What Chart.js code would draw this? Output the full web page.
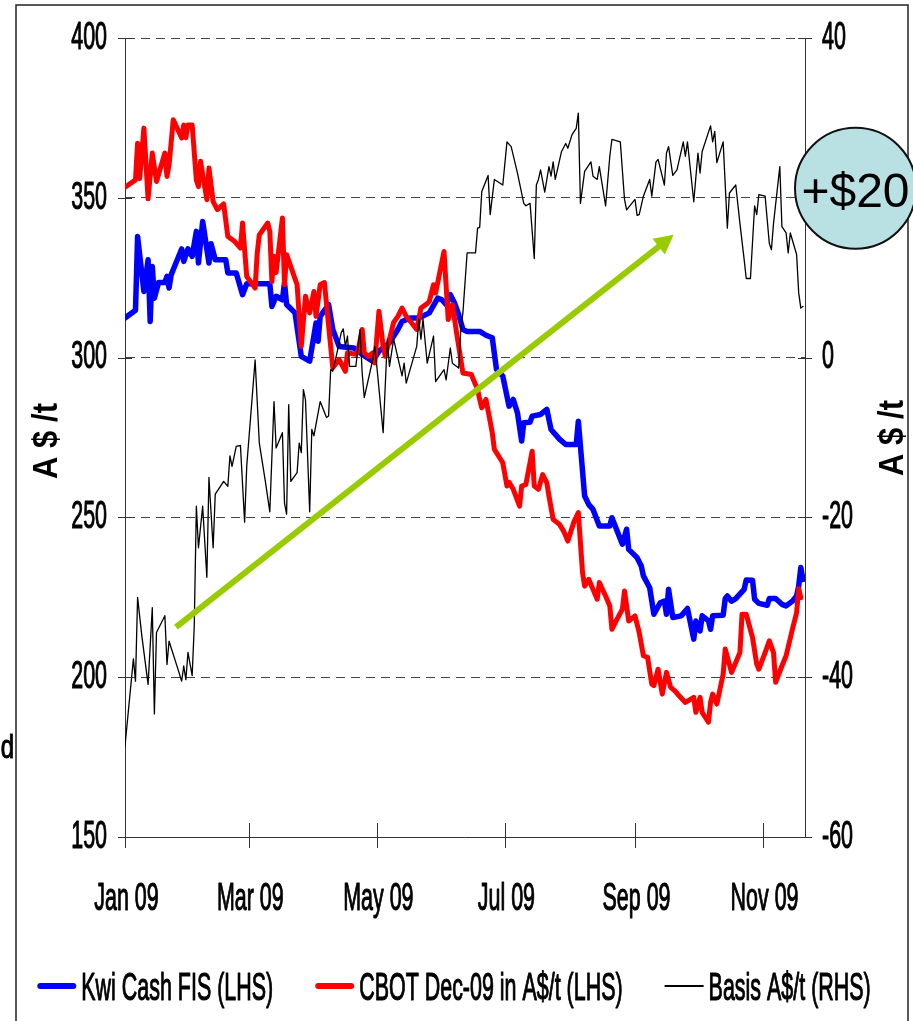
<!DOCTYPE html>
<html>
<head>
<meta charset="utf-8">
<title>Kwi Cash FIS vs CBOT Dec-09 and basis, 2009</title>
<script src="https://cdn.jsdelivr.net/npm/chart.js@4.4.0/dist/chart.umd.min.js"></script>
<style>
  html, body { margin: 0; padding: 0; background: #fff; }
  #wrap { width: 913px; height: 1021px; }
</style>
</head>
<body>
<div id="wrap"><canvas id="chart" width="913" height="1021"></canvas></div>
<script>
// ---- x axis: day of 2009 (0 = 1 Jan) ----
const monthStarts = [0, 59, 120, 181, 243, 304];
const monthLabels = ['Jan 09', 'Mar 09', 'May 09', 'Jul 09', 'Sep 09', 'Nov 09'];

// ---- Kwi Cash FIS, A$/t (left axis) ----
const kwiDays = [0,5,6,9,11,12,13,14,16,19,20,21,22,27,28,30,32,34,35,37,40,41,43,48,49,53,56,58,69,70,72,75,76,77,81,84,88,91,92,93,97,99,102,109,113,118,121,126,130,132,136,140,145,149,151,153,155,157,159,161,163,169,172,175,177,180,182,183,185,187,189,190,193,194,198,201,203,207,210,215,216,217,219,221,223,226,231,232,237,239,240,244,246,247,250,252,255,257,258,259,261,265,268,271,272,274,275,278,279,280,285,286,287,289,291,295,296,299,300,302,306,307,310,313,315,318,320,321,322,323];
const kwiValues = [312.4,314.8,337.9,320.7,330.6,311.3,328.5,318.6,323.5,323.5,325.4,321.8,325.9,334,330.1,334,331.7,339.5,329.6,342.6,329.6,335.6,330.6,330.6,326.5,326.5,319.7,323.1,323.1,316,319.2,318.1,323.5,316.6,314,300.4,298.9,310.8,305.1,312.9,316.6,308.8,303.5,303,301,298.9,302,304.6,308.8,311.3,312.4,312.4,314,318.6,318.1,316.6,319.7,317.1,313.4,308.8,308.2,308.2,307,306.2,296.3,294.2,287.9,284.8,286.9,282.7,273.9,279.6,279.8,281.7,282.2,283.8,277.5,274.5,272.8,272.8,280.1,272.3,256.7,254,252.5,247.3,247.3,249.9,241.6,246.3,240,237.4,234.8,231.7,228,219.7,223.3,223.8,219.7,227.5,218.7,219.2,221.5,211.9,217.6,214.5,219.2,217.6,215,219.2,219.4,224.6,225.4,223.8,224.6,227.5,230.4,230.3,224.4,223.1,222.5,224.6,224.6,222.8,222.3,223.8,225.4,228.5,234.3,230.6];

// ---- CBOT Dec-09 converted to A$/t (left axis) ----
const cbotDays = [0,5,6,7,9,11,13,15,19,20,21,23,27,28,29,30,32,34,35,36,39,40,42,44,47,49,52,55,56,58,62,63,64,68,69,70,71,72,75,76,77,82,84,86,88,90,91,93,95,99,102,105,106,110,111,113,114,116,118,119,121,123,124,126,128,130,132,134,136,139,140,141,144,145,147,148,152,154,156,158,161,165,168,169,170,172,175,176,178,180,182,183,185,188,189,191,194,195,197,199,201,202,204,207,209,211,214,216,218,219,221,225,226,229,231,232,234,237,238,240,243,245,247,249,251,252,254,256,258,260,262,264,267,271,272,274,275,278,279,280,282,285,286,289,293,294,296,299,301,302,305,307,309,310,313,315,318,320,321,322];
const cbotValues = [353.3,355.6,367.1,356,371.8,349.7,364,355.1,364,356.7,360.3,374.4,368.7,372.8,368.8,372.8,372.8,355.6,353.5,361.4,349.4,359.3,348.8,346.3,348.1,337.9,336.5,334.3,342.1,325.4,321.8,332.7,338.4,342.1,339.5,323.8,331.7,326.6,343.7,322.8,332.2,322.8,303.5,319.2,314,320.7,312.9,322.8,323.5,296.8,299.4,295.7,301.5,301,302,308.8,301.5,300.4,301.5,298.3,314.5,303.5,300.4,305.6,311,312.9,315.5,312.9,311.3,308.8,311.9,315.5,316.9,317.6,322.8,320.2,333.2,311.9,316.6,307.7,295.2,294.7,290,286.9,284.3,286.9,276.5,271.3,269.2,267.1,259.8,261,258.8,253.5,259.8,260.3,270.7,259.8,258.8,263.4,260.8,256.7,249.4,247.8,245.7,242.6,248.8,251.5,232.7,228.5,230.6,224.4,229.6,225.4,222.3,215,217.6,221.3,227,217.6,219.2,214,206.7,206.2,197.8,197.4,202.5,194.7,201.5,196.8,195.7,194.2,192.1,193.7,189,193.7,189,185.9,192.1,194.7,191.6,200.9,208.8,201.5,207.7,219.7,219.7,212.4,204.1,202.5,207.7,211.4,207.7,198.4,203.5,206.7,215,220.2,227.7,224.9];

// ---- Basis, A$/t (right axis) ----
const basisDays = [0,4,5,6,8,11,13,14,15,19,20,21,25,27,28,29,30,32,33,34,35,37,39,40,42,43,45,47,49,50,51,53,55,57,58,62,64,67,69,71,72,75,76,77,78,79,82,83,84,85,86,88,89,90,93,96,97,98,99,101,103,104,105,106,107,110,112,113,114,118,119,120,123,125,126,128,132,133,134,139,140,141,142,144,147,148,152,153,155,156,159,160,161,163,167,168,169,170,173,174,176,180,182,184,187,190,191,193,195,196,197,198,200,202,203,204,205,208,210,211,213,215,216,217,219,222,223,225,226,229,231,232,236,238,239,243,244,245,247,250,251,253,254,257,258,259,261,263,266,267,268,271,273,274,275,279,280,281,282,285,287,288,291,293,295,296,298,300,301,302,305,307,308,309,312,313,315,316,317,320,321,322,323];
const basisValues = [-48.6,-37.7,-40.5,-30,-34.8,-40.9,-31.3,-44.6,-34.4,-32.3,-38.4,-35.5,-38.8,-40.5,-38.6,-40.3,-36.9,-39.8,-33.6,-18.6,-23.8,-18.6,-27.5,-15,-23.8,-17.1,-16.3,-15.5,-16.1,-12.3,-13.6,-11.1,-11,-20.6,-13.6,-0.3,-10.7,-15.7,-19.3,-5.5,-11.3,-9.4,-18.2,-19.6,-5.9,-15.5,-14.4,-10.7,-11.9,-4,-5.3,-19.3,-9,-9.8,-5.5,-7.5,-7.3,-1.5,-1.7,0.6,3.1,3.6,1.4,2.7,-1.1,-1.1,3.5,-1.9,-5,-0.3,1.4,-1.1,-9.4,2.3,-1.1,2.3,-2.3,-0.7,-3.2,1.4,4.8,2.3,4.8,-0.7,2.7,-3,-1.5,-2.8,1.2,-0.7,-1.3,3.5,5.6,13.1,13.1,16.2,16.3,20.8,22.8,17.9,22.3,21.6,27,26.4,23.1,19.3,19,19.3,12.4,21.6,22.3,23.5,20.7,23.9,22.7,24.5,22.3,25.8,26.8,26.2,27.9,28.7,30.6,19.3,23.3,24.5,22.7,22.3,23.9,19,25.2,27.3,27,19.8,18.5,19.8,17.8,17.9,20.2,22.3,20.2,24.5,24.8,21.6,25.6,26.4,22.8,23.5,27,25.2,27,19.5,25.6,23.1,25.8,29,27,28.3,24.4,27,16.2,20.6,21.6,16.8,12.3,9.9,9.9,19,17.9,20.4,20.2,14.3,13.5,16.8,23.9,16.4,15.6,13.1,15.6,12.9,8.1,6.2,6.4];

// ---- annotations ----
const trendArrow = { from: [24.3, 215.7], to: [261.4, 338.4] };   // [day, A$/t on left axis]
const basisCallout = { value: 21.2, text: '+$20' };               // right-axis level
const axisTitle = 'A $ /t';

// ---- styling ----
const FONT = "'Liberation Sans', Arial, Helvetica, sans-serif";
const NARROW = 0.55;      // horizontal squeeze of the condensed label face
const LABEL_PX = 39;
const AXIS_COLOR = '#333';

// condensed label: squeezed horizontally, with a hairline stroke to keep the stems solid
function narrowText(ctx, text, x, y, align, baseline, squeeze) {
  ctx.save();
  ctx.translate(x, y);
  ctx.scale(squeeze || NARROW, 1);
  ctx.textAlign = align;
  ctx.textBaseline = baseline;
  ctx.fillText(text, 0, 0);
  ctx.strokeStyle = ctx.fillStyle;
  ctx.lineWidth = 1.1;
  ctx.lineJoin = 'round';
  ctx.strokeText(text, 0, 0);
  ctx.restore();
}

function rotatedTitle(ctx, text, baselineX, centerY, targetLen) {
  ctx.save();
  ctx.font = `bold 35px ${FONT}`;
  const w = ctx.measureText(text).width;
  ctx.translate(baselineX, centerY);
  ctx.rotate(-Math.PI / 2);
  ctx.scale(targetLen / w, 1);
  ctx.textAlign = 'center';
  ctx.textBaseline = 'alphabetic';
  ctx.fillStyle = '#000';
  ctx.fillText(text, 0, 0);
  ctx.restore();
}

const decor = {
  id: 'decor',
  beforeDraw(chart) {
    const { ctx, width, height } = chart;
    ctx.save();
    ctx.fillStyle = '#fff';
    ctx.fillRect(0, 0, width, height);
    ctx.restore();
  },
  afterDraw(chart) {
    const { ctx, chartArea: a, scales } = chart;
    const { x, y, y2 } = scales;
    ctx.save();

    // crossing tick marks
    ctx.strokeStyle = AXIS_COLOR;
    ctx.lineWidth = 1;
    ctx.beginPath();
    y.ticks.forEach(t => {
      const py = Math.round(y.getPixelForValue(t.value)) + 0.5;
      ctx.moveTo(a.left - 7, py); ctx.lineTo(a.left + 7, py);
    });
    y2.ticks.forEach(t => {
      const py = Math.round(y2.getPixelForValue(t.value)) + 0.5;
      ctx.moveTo(a.right - 7, py); ctx.lineTo(a.right + 7, py);
    });
    x.ticks.forEach(t => {
      const px = Math.round(x.getPixelForValue(t.value)) + 0.5;
      ctx.moveTo(px, a.bottom - 14); ctx.lineTo(px, a.bottom + 11);
    });
    ctx.stroke();

    // tick labels
    ctx.fillStyle = '#000';
    ctx.font = `${LABEL_PX}px ${FONT}`;
    y.ticks.forEach(t => {
      narrowText(ctx, String(t.value), a.left - 18, y.getPixelForValue(t.value), 'right', 'middle');
    });
    y2.ticks.forEach(t => {
      narrowText(ctx, String(t.value), a.right + 17, y2.getPixelForValue(t.value), 'left', 'middle');
    });
    monthStarts.forEach((d, i) => {
      narrowText(ctx, monthLabels[i], x.getPixelForValue(d) + 1.5, a.bottom + 73, 'center', 'alphabetic');
    });

    // trend arrow
    const x0 = x.getPixelForValue(trendArrow.from[0]), y0 = y.getPixelForValue(trendArrow.from[1]);
    const x1 = x.getPixelForValue(trendArrow.to[0]), y1 = y.getPixelForValue(trendArrow.to[1]);
    const len = Math.hypot(x1 - x0, y1 - y0);
    const ux = (x1 - x0) / len, uy = (y1 - y0) / len;
    const headLen = 19, headHalf = 10;
    const bx = x1 - ux * headLen, by = y1 - uy * headLen;
    ctx.strokeStyle = '#99cc00';
    ctx.fillStyle = '#99cc00';
    ctx.lineWidth = 6;
    ctx.lineCap = 'butt';
    ctx.beginPath();
    ctx.moveTo(x0, y0);
    ctx.lineTo(bx + ux * 2, by + uy * 2);
    ctx.stroke();
    ctx.beginPath();
    ctx.moveTo(x1, y1);
    ctx.lineTo(bx - uy * headHalf, by + ux * headHalf);
    ctx.lineTo(bx + uy * headHalf, by - ux * headHalf);
    ctx.closePath();
    ctx.fill();

    // axis titles
    rotatedTitle(ctx, axisTitle, 57, 441, 76);
    ctx.save();
    ctx.beginPath();
    ctx.rect(0, 0, 907, chart.height);
    ctx.clip();
    rotatedTitle(ctx, axisTitle, 903, 438, 76);
    ctx.restore();

    // legend
    ctx.font = `${LABEL_PX}px ${FONT}`;
    const sampleLen = 39, textGap = 5, itemGap = 42, legendBase = a.bottom + 163, sampleY = a.bottom + 149;
    const items = chart.data.datasets.map(ds => ({
      label: ds.label, color: ds.borderColor, thick: ds.borderWidth > 2 ? 6 : 2,
      tw: ctx.measureText(ds.label).width * NARROW
    }));
    const total = items.reduce((s, it) => s + sampleLen + textGap + it.tw, 0) + itemGap * (items.length - 1);
    let cx = 454 - total / 2;
    items.forEach(it => {
      ctx.strokeStyle = it.color;
      ctx.lineWidth = it.thick;
      ctx.lineCap = it.thick > 2 ? 'round' : 'butt';
      ctx.beginPath();
      ctx.moveTo(cx + (it.thick > 2 ? 3 : 0), sampleY);
      ctx.lineTo(cx + sampleLen - (it.thick > 2 ? 3 : 0), sampleY);
      ctx.stroke();
      ctx.fillStyle = '#000';
      narrowText(ctx, it.label, cx + sampleLen + textGap, legendBase, 'left', 'alphabetic');
      cx += sampleLen + textGap + it.tw + itemGap;
    });

    // outer frame
    ctx.strokeStyle = '#222';
    ctx.lineWidth = 1.5;
    ctx.lineCap = 'butt';
    ctx.beginPath();
    ctx.moveTo(16, chart.height);
    ctx.lineTo(16, 5);
    ctx.lineTo(908, 5);
    ctx.lineTo(908, chart.height);
    ctx.stroke();

    // basis callout bubble
    const cy = y2.getPixelForValue(basisCallout.value);
    const ccx = a.right + 50.5;
    ctx.beginPath();
    ctx.arc(ccx, cy, 60.5, 0, Math.PI * 2);
    ctx.fillStyle = '#b9e0e3';
    ctx.fill();
    ctx.lineWidth = 2;
    ctx.strokeStyle = '#111';
    ctx.stroke();
    ctx.fillStyle = '#000';
    ctx.font = `48px ${FONT}`;
    ctx.textAlign = 'center';
    ctx.textBaseline = 'alphabetic';
    ctx.fillText(basisCallout.text, ccx, cy + 19);

    // clipped text fragment at the left edge
    ctx.fillStyle = '#000';
    ctx.font = `34px ${FONT}`;
    narrowText(ctx, 'd', 14, 758, 'right', 'alphabetic', 0.7);

    ctx.restore();
  }
};

const toPoints = (days, values) => days.map((d, i) => ({ x: d, y: values[i] }));

new Chart(document.getElementById('chart'), {
  type: 'line',
  data: {
    datasets: [
      { label: 'Kwi Cash FIS (LHS)', data: toPoints(kwiDays, kwiValues), yAxisID: 'y',
        borderColor: '#0000ff', borderWidth: 5.5, order: 3 },
      { label: 'CBOT Dec-09 in A$/t (LHS)', data: toPoints(cbotDays, cbotValues), yAxisID: 'y',
        borderColor: '#ff0000', borderWidth: 5, order: 2 },
      { label: 'Basis A$/t (RHS)', data: toPoints(basisDays, basisValues), yAxisID: 'y2',
        borderColor: '#000000', borderWidth: 1.3, order: 1 }
    ]
  },
  options: {
    responsive: false,
    devicePixelRatio: 1,
    animation: false,
    layout: { padding: { top: 38, left: 0, right: 0, bottom: 0 } },
    elements: {
      point: { radius: 0, hoverRadius: 0 },
      line: { tension: 0, borderJoinStyle: 'round', borderCapStyle: 'round', fill: false }
    },
    plugins: { legend: { display: false }, tooltip: { enabled: false } },
    scales: {
      x: {
        type: 'linear', min: 0, max: 324,
        afterBuildTicks: s => { s.ticks = monthStarts.map(v => ({ value: v })); },
        afterFit: s => { s.height = 184; },
        ticks: { display: false },
        grid: { display: false, drawTicks: false },
        border: { display: true, color: AXIS_COLOR, width: 1 }
      },
      y: {
        position: 'left', min: 150, max: 400,
        ticks: { display: false, stepSize: 50 },
        afterFit: s => { s.width = 125; },
        grid: { color: '#444', lineWidth: 1, drawTicks: false },
        border: { display: true, color: AXIS_COLOR, width: 1, dash: [9, 6] }
      },
      y2: {
        position: 'right', min: -60, max: 40,
        ticks: { display: false, stepSize: 20 },
        afterFit: s => { s.width = 108; },
        grid: { display: false, drawTicks: false },
        border: { display: true, color: AXIS_COLOR, width: 1 }
      }
    }
  },
  plugins: [decor]
});
</script>
</body>
</html>
